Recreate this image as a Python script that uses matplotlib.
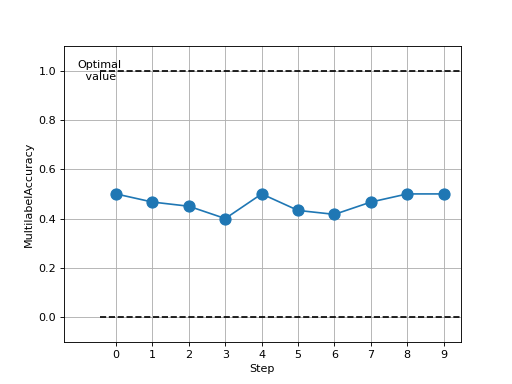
import matplotlib
matplotlib.use("Agg")
import matplotlib.pyplot as plt

steps = [0, 1, 2, 3, 4, 5, 6, 7, 8, 9]
accuracy = [0.5, 0.467, 0.45, 0.4, 0.5, 0.433, 0.417, 0.467, 0.5, 0.5]
optimal = 1.0
baseline = 0.0

fig, ax = plt.subplots(figsize=(6.4, 4.8), dpi=80)
ax.plot(steps, accuracy, marker='o', markersize=10, color='#1f77b4')
ax.hlines([optimal, baseline], -0.45, 9.45, colors='black', linestyles='--')
ax.text(-0.46, optimal, "Optimal\n value", ha='center', va='center')
ax.set_xlim(-1.43, 9.47)
ax.set_ylim(-0.1, 1.1)
ax.set_xticks(steps)
ax.set_xlabel("Step")
ax.set_ylabel("MultilabelAccuracy")
ax.grid(True)
fig.savefig("out.png", dpi=80)
